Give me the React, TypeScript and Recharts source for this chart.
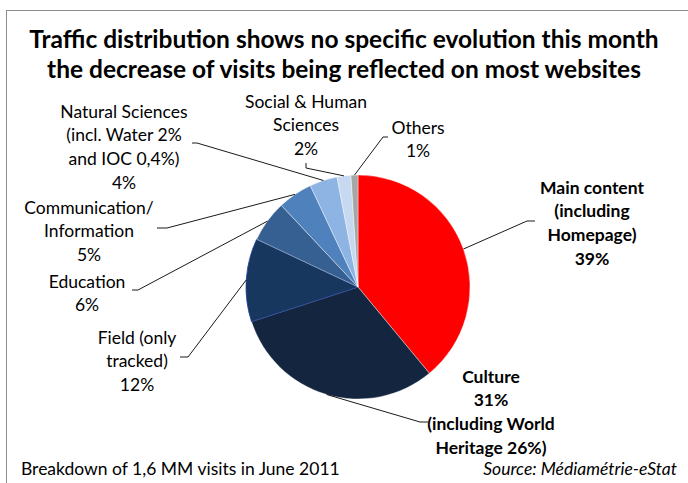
import React from 'react';
import { PieChart, Pie, Cell } from 'recharts';

// share of visits per website section, June 2011 (clockwise from 12 o'clock)
const categories = [
  'Main content',
  'Culture',
  'Field',
  'Education',
  'Communication/Information',
  'Natural Sciences',
  'Social & Human Sciences',
  'Others',
];
const shares = [39, 31, 12, 6, 5, 4, 2, 1];

// label text, "%p" gets replaced by the share
const labelTexts = [
  ['Main content', '(including', 'Homepage)', '%p'],
  ['Culture', '%p', '(including World', 'Heritage 26%)'],
  ['Field (only', 'tracked)', '%p'],
  ['Education', '%p'],
  ['Communication/', 'Information', '%p'],
  ['Natural Sciences', '(incl. Water 2%', 'and IOC 0,4%)', '%p'],
  ['Social & Human', 'Sciences', '%p'],
  ['Others', '%p'],
];
const boldLabels = [true, true, false, false, false, false, false, false];

const COLORS = ['#FF0000', '#14263F', '#17375E', '#376092', '#4F81BD', '#8EB4E3', '#C6D9F1', '#A6A6A6'];

// label placement, offsets from the pie centre: text centre x, first line y, elbow + end of leader line
const LAYOUT = [
  { tx: 234, ty: -100, elbow: [169, -66], end: [177, -66] },
  { tx: 133, ty: 89, elbow: [62, 135], end: [70, 135] },
  { tx: -221, ty: 50, elbow: [-170, 70], end: [-178, 70] },
  { tx: -271, ty: -6, elbow: [-220, 3], end: [-226, 3] },
  { tx: -269, ty: -80, elbow: [-191, -59], end: [-201, -59] },
  { tx: -234, ty: -176, elbow: [-161, -144], end: [-166, -144] },
  { tx: -52, ty: -186, elbow: [-52, -119], end: [-52, -124] },
  { tx: 60, ty: -160, elbow: [25, -150], end: [30, -150] },
];

const data = categories.map((name, i) => ({ name, value: shares[i] }));

const FONT = 'Lato, "Open Sans", sans-serif';
const RADIAN = Math.PI / 180;
const LINE_H = 23.8;

const renderLabel = (props: any) => {
  const { cx, cy, midAngle, outerRadius, index } = props;
  const lay = LAYOUT[index];
  const sx = cx + outerRadius * Math.cos(-midAngle * RADIAN);
  const sy = cy + outerRadius * Math.sin(-midAngle * RADIAN);
  const pts = `${sx},${sy} ${cx + lay.elbow[0]},${cy + lay.elbow[1]} ${cx + lay.end[0]},${cy + lay.end[1]}`;
  const lines = labelTexts[index].map((t) => t.replace('%p', `${shares[index]}%`));
  return (
    <g key={`lbl-${index}`}>
      <polyline points={pts} fill="none" stroke="#000" strokeWidth={0.9} />
      <text
        x={cx + lay.tx}
        y={cy + lay.ty}
        textAnchor="middle"
        fontFamily={FONT}
        fontSize={17.5}
        fontWeight={boldLabels[index] ? 700 : 400}
        fill="#000"
      >
        {lines.map((l, j) => (
          <tspan key={j} x={cx + lay.tx} y={cy + lay.ty + j * LINE_H} dominantBaseline="central">
            {l}
          </tspan>
        ))}
      </text>
    </g>
  );
};

export default function App() {
  return (
    <div style={{ position: 'relative', width: 688, height: 483, background: '#fff', overflow: 'hidden', fontFamily: FONT }}>
      <style>{'body{margin:0}'}</style>
      <div
        style={{
          position: 'absolute',
          left: 6,
          top: 10,
          width: 700,
          height: 500,
          border: '1px solid #8c8c8c',
          boxSizing: 'border-box',
        }}
      />
      <div
        style={{
          position: 'absolute',
          left: 0,
          top: 24,
          width: 688,
          textAlign: 'center',
          fontWeight: 700,
          fontSize: 24.5,
          lineHeight: '30px',
          color: '#000',
        }}
      >
        <div>Traffic distribution shows no specific evolution this month</div>
        <div>the decrease of visits being reflected on most websites</div>
      </div>
      <div style={{ position: 'absolute', left: 0, top: 0 }}>
        <PieChart width={688} height={483} margin={{ top: 0, right: 0, bottom: 0, left: 0 }}>
          <Pie
            data={data}
            dataKey="value"
            nameKey="name"
            cx={358}
            cy={287}
            outerRadius={112}
            startAngle={90}
            endAngle={-270}
            label={renderLabel}
            labelLine={false}
            isAnimationActive={false}
            stroke="#ffffff"
            strokeWidth={0.4}
          >
            {data.map((d, i) => (
              <Cell key={d.name} fill={COLORS[i]} stroke={i === 2 ? '#1F3C9A' : '#ffffff'} strokeWidth={i === 2 ? 0.8 : 0.4} />
            ))}
          </Pie>
        </PieChart>
      </div>
      <div style={{ position: 'absolute', left: 21, top: 458, fontSize: 17.5, lineHeight: '22px', color: '#000' }}>
        Breakdown of 1,6 MM visits in June 2011
      </div>
      <div
        style={{ position: 'absolute', right: 11, top: 458, fontSize: 17.5, lineHeight: '22px', fontStyle: 'italic', color: '#000' }}
      >
        Source: Médiamétrie-eStat
      </div>
    </div>
  );
}
